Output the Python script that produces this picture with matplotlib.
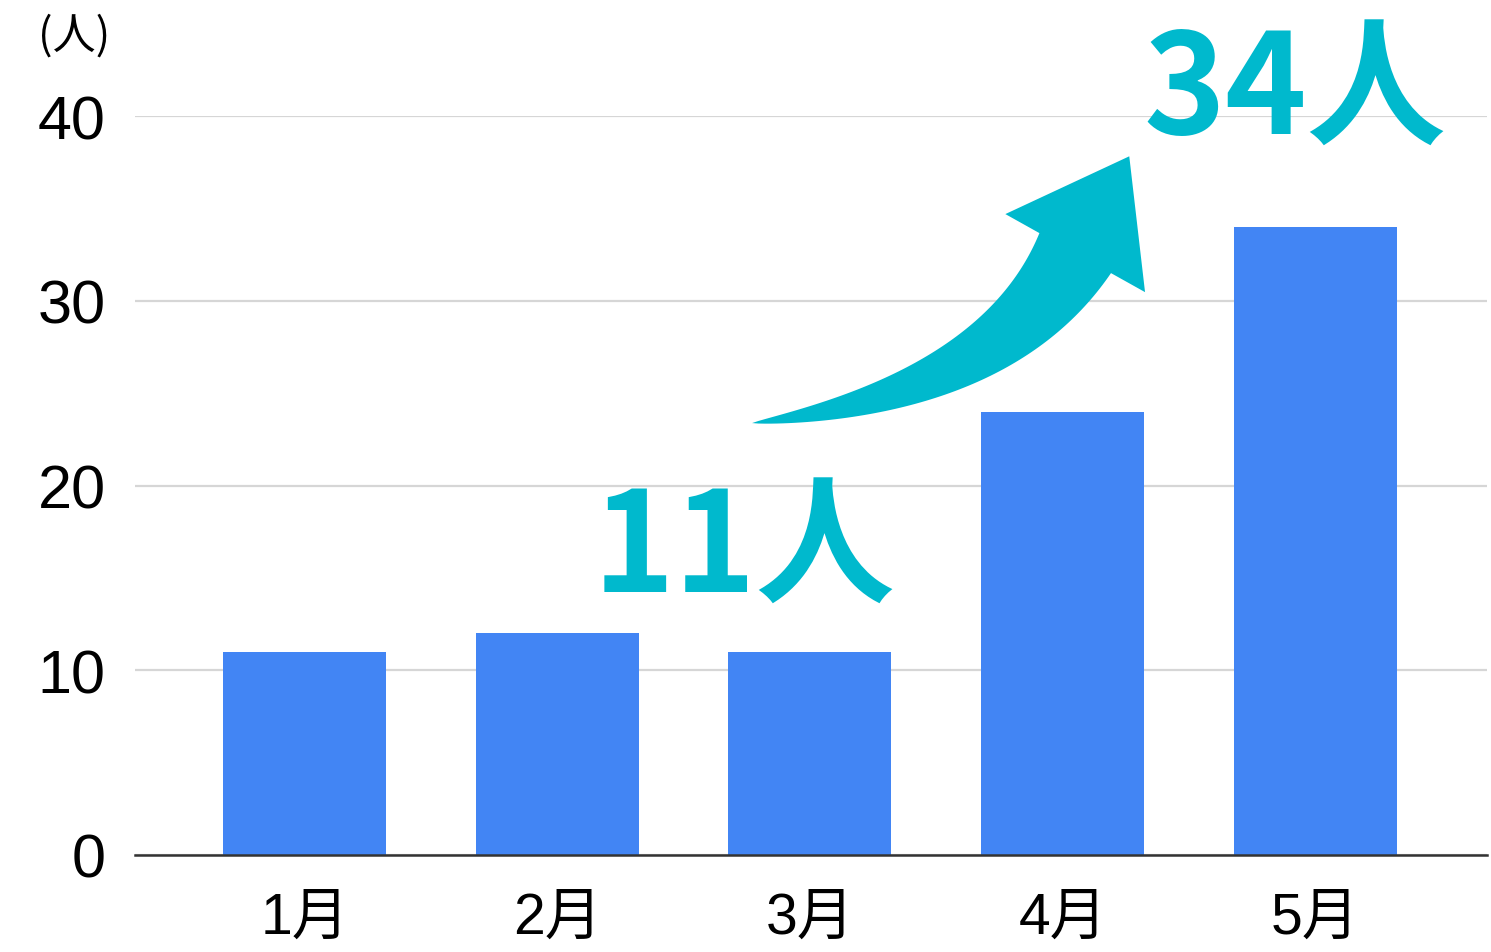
import matplotlib
matplotlib.use('Agg')
import matplotlib.pyplot as plt
import numpy as np
from matplotlib.patches import Polygon

# データ
months = ['1月', '2月', '3月', '4月', '5月']
counts = [11, 12, 11, 24, 34]
y_ticks = [0, 10, 20, 30, 40]
start_label = '11人'
end_label = '34人'

bar_color = '#4285F4'
teal = '#00B9CD'
fam = ['Liberation Sans', 'Noto Sans CJK JP']
cjk = ['Noto Sans CJK JP', 'DejaVu Sans']

fig = plt.figure(figsize=(14.91, 9.53), dpi=100)
ax = fig.add_axes([0.0905, 0.1018, 0.9068, 0.7754])

x = list(range(len(months)))
ax.bar(x, counts, width=0.645, color=bar_color, zorder=2)

ax.set_xlim(-0.672, 4.68)
ax.set_ylim(0, 40)
ax.set_yticks(y_ticks)
ax.set_xticks(x)
ax.set_xticklabels(months, family=fam, fontsize=41)
ax.set_yticklabels([str(v) for v in y_ticks], family=fam, fontsize=44)
ax.tick_params(axis='y', length=0, pad=21)
ax.tick_params(axis='x', length=0, pad=26)

ax.grid(axis='y', color='#D6D6D6', linewidth=1.6, zorder=0)
for s in ['top', 'right', 'left']:
    ax.spines[s].set_visible(False)
ax.spines['bottom'].set_color('#333333')
ax.spines['bottom'].set_linewidth(1.8)
ax.spines['bottom'].set_zorder(3)

# 単位
fig.text(38 / 1491, 1 - 37 / 953, '(人)', family=cjk, fontsize=31,
         ha='left', va='center')

# 矢印（データ座標で位置決め、形はピクセルで作る）
arrow_tail = (1.771, 23.38)
arrow_ctrl = (2.739, 24.97)
arrow_neck = (3.050, 32.58)
arrow_tip = (3.264, 37.82)
neck_half = 41
head_half = 80

p0, c, m, tip = ax.transData.transform([arrow_tail, arrow_ctrl, arrow_neck, arrow_tip])
t = np.linspace(0, 1, 80)[:, None]
pts = (1 - t) ** 2 * p0 + 2 * (1 - t) * t * c + t ** 2 * m
d = 2 * (1 - t) * (c - p0) + 2 * t * (m - c)
d = d / np.linalg.norm(d, axis=1)[:, None]
nrm = np.column_stack([-d[:, 1], d[:, 0]])
w = neck_half * t[:, 0] ** 0.8
left = pts + nrm * w[:, None]
right = pts - nrm * w[:, None]
corner_l = m + nrm[-1] * head_half
corner_r = m - nrm[-1] * head_half
poly_px = np.vstack([left, [corner_l, tip, corner_r], right[::-1]])
poly = ax.transData.inverted().transform(poly_px)
ax.add_patch(Polygon(poly, closed=True, facecolor=teal, edgecolor='none',
                     zorder=4, clip_on=False))

ax.text(1.74, 14.3, start_label, family=cjk, fontweight='bold', fontsize=100,
        color=teal, ha='center', va='baseline', zorder=4, clip_on=False)
ax.text(3.92, 39.1, end_label, family=cjk, fontweight='bold', fontsize=100,
        color=teal, ha='center', va='baseline', zorder=4, clip_on=False)

fig.savefig('out.png', dpi=100)
